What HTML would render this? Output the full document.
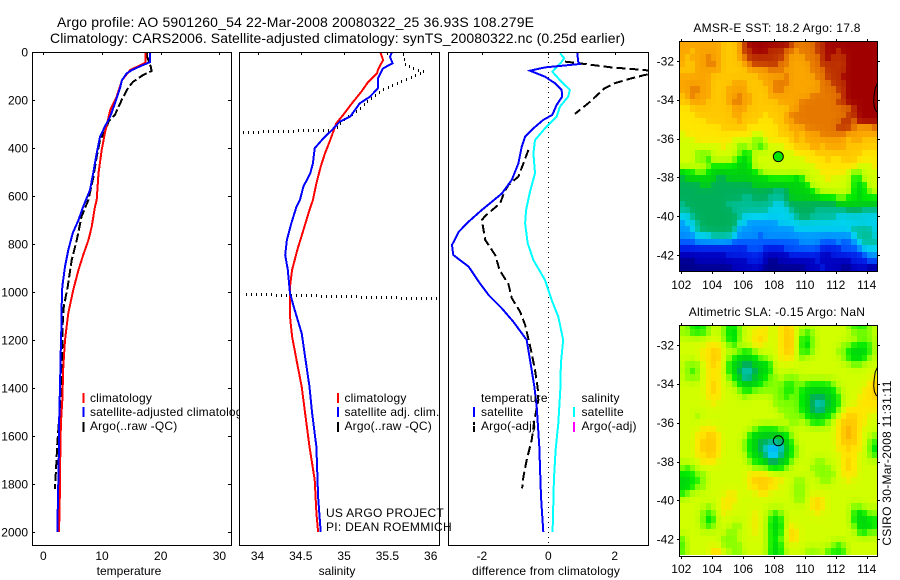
<!DOCTYPE html>
<html lang="en">
<head>
<meta charset="utf-8">
<title>Argo profile chart</title>
<style>
html,body{margin:0;padding:0;background:#fff;width:900px;height:580px;overflow:hidden}
svg{display:block}
text{font-family:"Liberation Sans",sans-serif;font-size:12px;fill:#000}
.ttl{font-size:14px}
.ls{letter-spacing:.27px}
.lg{letter-spacing:.18px}
</style>
</head>
<body>
<svg id="chart" xmlns="http://www.w3.org/2000/svg" width="900" height="580" viewBox="0 0 900 580">
<defs>
<clipPath id="clip-t"><rect x="32" y="52" width="199" height="493"/></clipPath>
<clipPath id="clip-s"><rect x="239" y="52" width="200" height="493"/></clipPath>
<clipPath id="clip-d"><rect x="448" y="52" width="200" height="493"/></clipPath>
<clipPath id="clip-m1"><rect x="679" y="41" width="199" height="231"/></clipPath>
<clipPath id="clip-m2"><rect x="679" y="325" width="199" height="232"/></clipPath>
</defs>
<rect x="0" y="0" width="900" height="580" fill="#fff"/>
<text class="ttl" x="57" y="27" textLength="477" lengthAdjust="spacing">Argo profile: AO 5901260_54 22-Mar-2008 20080322_25 36.93S 108.279E</text>
<text class="ttl" x="50" y="43" textLength="575" lengthAdjust="spacing">Climatology: CARS2006. Satellite-adjusted climatology: synTS_20080322.nc (0.25d earlier)</text>

<g id="p1"></g>
<g>
<line x1="83.5" x2="83.5" y1="393" y2="403" stroke="#f00" stroke-width="2"/>
<line x1="83.5" x2="83.5" y1="407" y2="417" stroke="#00f" stroke-width="2"/>
<line x1="83.5" x2="83.5" y1="422" y2="432" stroke="#000" stroke-width="2"/>
<text class="lg" x="90" y="402">climatology</text>
<text class="lg" x="90" y="416">satellite-adjusted climatology</text>
<text class="lg" x="90" y="430">Argo(..raw -QC)</text>
</g>

<g id="p2"></g>
<g>
<line x1="338" x2="338" y1="393" y2="403" stroke="#f00" stroke-width="2"/>
<line x1="338" x2="338" y1="407" y2="417" stroke="#00f" stroke-width="2"/>
<line x1="338" x2="338" y1="422" y2="432" stroke="#000" stroke-width="2"/>
<text class="lg" x="344.5" y="402">climatology</text>
<text class="lg" x="344.5" y="416">satellite adj. clim.</text>
<text class="lg" x="344.5" y="430">Argo(..raw -QC)</text>
</g>

<g id="p3"></g>
<g>
<text class="lg" x="481" y="402">temperature</text>
<line x1="474" x2="474" y1="407" y2="417" stroke="#00f" stroke-width="2"/>
<text class="lg" x="481" y="416">satellite</text>
<line x1="474" x2="474" y1="422" y2="432" stroke="#000" stroke-width="2" stroke-dasharray="3 1 6"/>
<text class="lg" x="481" y="430">Argo(-adj)</text>
<text class="lg" x="581.5" y="402">salinity</text>
<line x1="574" x2="574" y1="407" y2="417" stroke="#0ff" stroke-width="2"/>
<text class="lg" x="581.5" y="416">satellite</text>
<line x1="574" x2="574" y1="422" y2="432" stroke="#f0f" stroke-width="2"/>
<text class="lg" x="581.5" y="430">Argo(-adj)</text>
</g>

<text class="ls" x="326" y="517">US ARGO PROJECT</text>
<text class="ls" x="326" y="531">PI: DEAN ROEMMICH</text>

<g id="m1"></g>
<g id="m2"></g>
<text class="ls" x="777" y="32" text-anchor="middle">AMSR-E SST: 18.2 Argo: 17.8</text>
<text class="ls" x="777" y="316" text-anchor="middle">Altimetric SLA: -0.15 Argo: NaN</text>
<text class="ls" transform="translate(891 463) rotate(-90)" text-anchor="middle">CSIRO 30-Mar-2008 11:31:11</text>
</svg>

<script>
// ---------- profile data (depth in dbar) ----------
const depthTicks = [0,200,400,600,800,1000,1200,1400,1600,1800,2000];
const tempTicks = [0,10,20,30];
const salTicks = [34,34.5,35,35.5,36];
const salTickLabels = ['34','34.5','35','35.5','36'];
const diffTicks = [-2,0,2];

const tempClimDepth = [0,45,75,117,186,242,338,408,505,617,644,728,783,846,908,992,1088,1200,1311,1395,1450,1547,1672,1880,2000];
const tempClimValue = [17.4,17.4,14.8,13.4,12.5,11.4,10.5,9.95,9.4,9.1,8.8,8.25,7.7,6.8,6.0,5.1,4.26,3.7,3.4,3.3,3.24,3.0,2.9,2.8,2.67];
const tempSatDepth = [0,42,54,75,89,117,151,214,269,311,353,422,505,575,644,700,755,825,894,978,1054,1158,1254,1395,1504,1713,1854,2000];
const tempSatValue = [18.2,18.2,17.0,15.1,14.2,13.4,13.06,12.2,11.4,10.5,9.66,9.1,8.5,7.95,6.8,6.0,5.0,4.26,3.7,3.24,3.13,3.07,2.96,2.85,2.73,2.62,2.5,2.39];
const tempArgoDepth = [5,20,61,79,96,124,147,200,262,290,332,367,436,525,617,686,783,867,978,1061,1131,1270,1395,1520,1631,1742,1811,1820];
const tempArgoValue = [17.7,17.7,18.3,18.45,17.0,15.3,14.5,13.36,12.2,11.1,10.5,9.66,9.1,8.5,7.67,6.5,5.7,4.84,4.15,3.5,3.3,3.2,3.0,2.73,2.39,2.16,2.0,2.0];

const salClimDepth = [3,33,75,89,124,165,214,262,297,367,422,478,547,617,658,742,825,908,978,1103,1186,1283,1395,1504,1645,1783,1921,2000];
const salClimValue = [35.42,35.45,35.39,35.38,35.28,35.2,35.09,34.99,34.91,34.84,34.78,34.73,34.68,34.64,34.6,34.53,34.46,34.40,34.375,34.375,34.40,34.45,34.51,34.55,34.6,34.66,34.68,34.7];
const salSatDepth = [3,20,47,68,110,151,186,214,269,290,325,360,401,464,505,561,617,644,714,783,846,908,1006,1075,1172,1270,1395,1504,1645,1853,2000];
const salSatValue = [35.55,35.53,35.56,35.45,35.39,35.39,35.3,35.18,35.07,34.95,34.86,34.76,34.66,34.64,34.61,34.53,34.49,34.45,34.39,34.34,34.32,34.35,34.375,34.43,34.51,34.55,34.6,34.63,34.68,34.7,34.73];
const salArgoDepth = [3,45,60,78,110,145,180,228,283,318,330,null,1003,1023];
const salArgoValue = [35.68,35.7,35.78,35.92,35.7,35.47,35.34,35.18,34.97,34.9,33.8,null,33.85,36.1];

const diffTempSatDepth = [3,40,50,64,78,103,130,158,186,221,262,283,318,353,395,464,533,590,658,707,749,804,846,894,964,1012,1068,1124,1200,1283,1395,1478,1645,1853,2000];
const diffTempSatValue = [0.87,0.9,0.95,-0.1,-0.55,-0.1,0.2,0.4,0.42,0.25,0.12,-0.15,-0.45,-0.7,-0.8,-0.9,-1.1,-1.4,-2.0,-2.4,-2.7,-2.9,-2.86,-2.4,-2.06,-1.8,-1.4,-1.05,-0.65,-0.55,-0.42,-0.35,-0.27,-0.22,-0.15];
const diffSalSatDepth = [5,26,45,82,117,158,186,228,269,318,367,422,505,582,658,714,797,867,950,1033,1103,1200,1297,1408,1547,1658,1783,2000];
const diffSalSatValue = [0.35,0.48,0.38,0.12,0.35,0.65,0.6,0.35,0.25,-0.1,-0.4,-0.45,-0.4,-0.55,-0.67,-0.7,-0.62,-0.45,-0.1,0.1,0.3,0.45,0.38,0.36,0.3,0.22,0.17,0.13];
const diffTempArgoDepth = [40,50,64,75,85,96,110,130,151,214,258,null,408,464,519,554,582,630,683,700,783,846,908,968,1026,1082,1137,1242,1325,1400,1450,1533,1617,1700,1770,1818];
const diffTempArgoValue = [0.5,1.1,1.9,2.9,3.3,2.9,2.5,2.0,1.7,1.2,0.8,null,-0.6,-0.75,-0.9,-1.2,-1.32,-1.45,-1.9,-2.0,-1.9,-1.6,-1.47,-1.2,-1.1,-0.85,-0.7,-0.52,-0.4,-0.32,-0.3,-0.42,-0.5,-0.65,-0.75,-0.79];
const zeroLineDepth = [0,2050];
const zeroLineValue = [0,0];

// ---------- map data (colour level per cell, 36 rows x 38 columns) ----------
const lonTicks = [102,104,106,108,110,112,114];
const latTicks = [32,34,36,38,40,42];
const argoLon = [108.28];
const argoLat = [36.93];
const coastLon = [114.75,114.55,114.48,114.45,114.5,114.62,114.75];
const coastLat = [33.05,33.4,33.8,34.1,34.4,34.6,34.65];

const sstGrid = [
[14,14,14,14,14,14,14,14,13,13,13,14,16,17,17,17,17,17,17,17,17,16,15,15,15,15,16,16,17,17,17,17,17,17,17,17,17,17],
[14,14,13,14,14,14,14,14,13,13,13,14,16,16,17,17,17,16,16,16,15,15,14,15,15,15,16,16,17,17,16,17,17,17,17,17,17,17],
[14,13,14,14,14,15,14,14,13,13,13,14,15,16,16,16,16,16,16,16,15,14,14,14,15,15,15,16,17,16,16,16,17,17,17,17,17,17],
[14,13,13,14,14,15,15,14,13,13,13,13,14,15,16,16,16,16,16,15,15,14,14,14,14,15,15,16,16,16,16,16,17,17,17,17,17,17],
[13,13,13,14,14,14,14,14,13,13,13,13,13,14,14,14,14,15,15,15,14,14,14,14,14,15,15,15,16,16,16,16,17,17,17,17,17,17],
[14,14,14,14,14,14,13,13,13,13,13,13,13,13,13,14,14,14,14,14,15,14,14,14,14,14,15,15,16,16,16,17,17,17,17,17,17,17],
[14,14,14,14,14,14,13,13,13,13,14,14,14,13,13,13,14,14,15,15,15,14,14,14,14,14,14,15,15,16,16,16,17,17,17,17,17,17],
[14,14,15,15,14,14,13,13,13,14,14,14,14,13,13,13,13,14,15,15,14,14,14,14,14,14,14,15,15,15,16,16,17,17,17,17,17,17],
[13,14,15,14,14,14,13,13,13,14,14,15,14,14,13,13,13,14,14,14,14,14,14,14,14,15,15,15,15,15,15,16,17,17,17,17,17,17],
[13,13,14,14,14,13,13,13,13,14,15,15,14,14,13,13,13,13,13,14,14,14,14,15,15,15,15,15,15,15,16,16,17,17,17,17,17,17],
[12,12,13,13,13,13,13,13,13,13,14,14,14,13,13,13,13,13,13,13,13,14,14,15,15,15,15,15,15,15,15,15,15,16,17,17,17,17],
[12,12,12,13,13,13,13,13,13,13,14,14,13,13,13,13,12,13,13,13,14,15,15,15,15,15,15,15,15,15,15,15,16,16,17,17,17,17],
[12,12,12,12,12,13,13,13,13,13,13,14,13,13,13,12,12,12,13,13,14,14,15,15,15,15,15,15,15,15,15,16,16,15,17,17,17,17],
[12,12,12,12,12,12,12,12,13,13,13,13,13,12,12,12,12,12,12,13,13,14,14,14,15,15,15,15,15,15,16,16,16,15,14,14,14,15],
[11,12,12,12,12,12,12,12,12,12,12,12,12,12,11,11,12,12,12,13,13,13,14,13,14,14,14,15,15,15,15,15,14,14,14,14,14,14],
[11,11,11,12,12,12,12,12,12,12,11,11,11,11,10,10,11,12,12,12,12,13,14,13,14,14,14,14,14,14,14,14,13,14,14,13,13,13],
[11,11,11,11,11,11,11,11,12,11,11,10,10,11,10,9,10,11,11,11,12,12,13,13,13,14,14,13,14,14,14,14,13,13,13,13,13,13],
[11,11,11,10,10,10,11,11,11,11,11,10,9,9,11,11,11,11,11,11,11,11,12,12,12,12,13,13,13,13,13,13,13,13,13,12,12,12],
[11,11,11,10,10,9,11,11,11,11,10,9,8,9,11,11,11,11,11,11,11,11,11,11,12,12,12,12,13,12,12,13,13,13,12,12,12,12],
[11,11,11,11,11,10,9,9,9,9,9,8,8,9,11,11,11,11,11,11,11,11,11,11,11,11,12,12,12,12,12,12,12,12,11,11,11,12],
[8,9,9,10,10,9,8,8,8,8,8,8,8,8,9,10,11,11,11,11,11,11,11,11,11,11,11,12,12,12,12,12,11,10,10,11,11,11],
[7,8,8,8,8,8,8,7,7,8,8,8,8,8,8,8,8,9,9,9,9,9,8,9,11,11,11,11,12,11,11,11,11,9,9,11,11,11],
[7,7,7,7,8,8,7,7,7,7,7,7,7,7,8,8,8,8,8,8,8,8,8,8,9,11,11,11,11,11,11,11,11,9,8,9,11,11],
[7,7,7,7,7,7,7,7,7,7,7,7,7,7,7,7,7,7,6,6,7,8,8,8,8,9,10,11,11,11,11,11,11,9,8,9,10,11],
[7,7,7,7,7,7,7,7,7,7,7,7,6,6,7,7,7,6,6,6,7,8,8,8,8,8,8,9,9,9,10,10,9,9,8,9,9,9],
[6,7,7,7,7,7,7,7,7,6,6,6,6,6,6,6,6,6,5,5,6,7,7,7,7,7,7,7,7,7,8,8,8,8,8,8,8,8],
[6,6,7,7,7,7,7,7,7,7,6,6,6,6,6,6,6,5,5,5,5,6,7,7,7,7,6,6,6,6,6,6,7,7,7,6,6,6],
[5,5,6,7,7,7,7,7,7,7,7,6,5,5,5,5,5,5,5,5,5,5,6,7,7,6,6,6,6,6,5,5,5,5,5,5,5,5],
[4,5,5,6,7,7,7,7,7,7,7,5,5,4,4,4,4,4,4,5,5,5,5,5,5,5,5,5,5,5,5,5,5,5,5,5,5,5],
[4,4,5,6,7,7,7,7,7,7,6,4,4,4,4,4,4,4,4,4,4,4,5,5,5,5,5,5,5,5,5,5,5,6,6,6,6,5],
[4,4,4,5,5,5,6,6,6,6,5,4,4,4,4,3,4,4,4,4,4,4,4,4,4,4,4,4,4,4,4,4,4,5,6,6,6,5],
[3,3,3,4,4,4,4,4,4,4,3,3,3,3,3,3,3,3,3,3,3,3,3,4,4,4,4,3,3,3,4,3,3,4,5,6,6,6],
[2,2,2,2,2,2,2,2,2,2,2,2,2,3,3,3,2,2,2,2,3,3,3,3,3,3,3,2,2,2,2,3,3,3,4,5,5,5],
[1,1,1,1,1,1,1,1,1,2,2,2,2,2,2,2,1,1,1,1,1,2,2,2,2,2,2,1,1,2,2,2,2,2,2,3,4,4],
[0,0,0,1,1,1,1,1,1,1,1,1,1,2,2,2,1,0,0,1,1,1,1,1,1,1,2,1,1,1,1,1,1,2,2,2,3,3],
[0,0,0,0,0,0,0,0,0,0,1,1,1,1,1,1,0,0,0,0,0,0,0,0,1,1,1,2,1,1,1,0,0,1,1,1,0,0]
];

const slaGrid = [
[11,10,9,9,9,10,11,11,10,9,9,10,11,11,11,11,12,11,11,12,13,12,11,11,11,11,11,11,11,11,11,11,10,9,9,9,10,11],
[10,10,9,9,9,10,11,11,10,9,8,10,11,11,12,12,12,11,11,12,13,13,11,10,9,10,11,11,11,11,11,11,11,10,10,10,10,11],
[11,11,11,11,11,11,11,11,10,9,8,10,11,11,12,13,12,11,11,12,13,13,11,9,9,10,11,11,11,11,11,11,11,11,10,10,10,11],
[11,11,11,11,11,12,12,12,11,10,9,11,11,11,12,12,11,11,11,12,13,13,11,9,8,10,11,11,11,11,11,10,10,9,9,9,9,11],
[11,11,11,11,12,12,13,13,11,11,11,10,9,9,10,11,11,11,11,12,13,13,11,9,9,10,11,11,11,11,10,10,9,8,8,8,9,11],
[11,11,11,11,12,12,13,13,11,10,9,8,8,8,9,10,10,11,11,12,12,12,11,10,11,11,11,11,11,11,11,10,9,8,8,9,10,11],
[11,10,10,10,11,12,13,12,11,9,8,8,7,7,8,8,8,9,11,11,11,11,11,11,11,11,11,11,11,11,11,11,11,10,10,11,11,11],
[11,10,9,10,11,12,12,12,11,9,8,7,5,5,7,8,8,9,11,11,11,11,11,11,11,11,11,11,11,11,11,11,11,11,11,11,11,11],
[11,10,10,10,11,12,12,12,11,10,9,8,5,6,8,8,9,10,10,11,10,10,10,11,11,11,11,11,11,11,11,11,11,11,11,11,11,12],
[11,11,11,11,11,12,13,12,11,11,10,9,8,8,8,9,10,10,10,10,9,9,10,10,9,9,9,9,9,10,11,11,11,11,11,11,12,13],
[11,11,11,11,11,12,13,12,11,11,11,10,9,9,10,10,10,10,10,10,9,9,10,9,8,8,8,8,8,9,10,11,11,11,11,12,12,13],
[11,11,11,11,11,12,12,12,11,11,11,11,10,11,11,11,11,11,10,10,9,10,10,9,8,7,7,7,8,8,9,11,11,11,12,12,12,13],
[11,11,11,11,11,11,12,11,11,11,11,11,11,11,11,11,11,11,10,10,10,10,10,9,8,7,5,5,8,8,9,11,11,11,12,12,12,12],
[11,11,11,11,11,11,11,11,11,11,11,11,11,11,11,11,11,11,11,10,10,10,10,9,8,7,6,6,8,8,10,11,12,12,12,12,12,12],
[11,11,11,10,11,11,11,11,11,11,11,11,11,11,11,11,11,11,11,11,10,10,10,10,9,8,8,8,9,10,11,12,13,13,12,12,11,11],
[11,11,11,11,11,11,11,11,11,11,11,11,11,11,11,11,11,11,11,11,11,10,10,11,10,9,9,9,10,11,12,13,13,13,12,12,11,11],
[11,11,11,11,12,12,12,11,11,11,11,11,11,11,10,9,9,9,9,10,10,11,11,11,11,11,11,11,11,11,12,13,14,13,12,11,11,11],
[11,11,11,12,12,13,13,12,11,11,11,11,11,9,8,8,8,8,8,8,9,10,11,11,11,11,11,11,11,11,12,13,14,13,12,11,11,10],
[11,11,11,12,13,13,13,12,11,11,11,11,10,9,8,7,7,6,6,6,8,9,11,11,11,11,11,11,11,11,12,13,13,13,12,11,10,9],
[11,11,11,12,13,13,13,12,11,11,11,11,10,9,8,7,5,4,4,5,8,9,10,11,11,11,11,11,11,11,12,12,13,12,12,11,10,8],
[11,11,11,12,12,13,13,12,11,11,11,11,11,9,8,8,6,4,4,6,8,9,10,11,11,11,11,11,11,11,11,12,12,12,11,11,10,9],
[11,11,11,11,12,12,12,11,11,11,11,11,11,10,9,9,8,7,7,8,8,10,11,11,11,11,10,10,11,11,11,12,13,12,11,11,11,11],
[10,9,10,11,11,11,11,11,11,11,11,11,11,11,10,10,10,9,9,9,10,11,11,11,11,10,10,10,10,11,11,12,13,12,11,11,11,11],
[9,9,9,10,10,11,11,11,11,11,11,11,11,12,12,12,12,11,11,11,11,11,11,11,11,11,10,10,10,10,11,12,12,12,11,11,11,11],
[8,8,9,9,10,11,11,11,11,11,11,11,11,12,13,13,13,13,12,12,11,11,10,10,11,11,11,10,10,11,11,11,12,11,11,11,11,11],
[8,8,9,10,10,11,11,11,11,11,11,11,11,12,12,13,13,12,12,11,11,11,10,10,11,11,11,11,11,11,11,11,11,11,11,11,11,11],
[9,10,11,11,11,11,11,11,11,12,12,11,11,11,11,12,12,11,11,11,11,11,10,10,11,11,11,11,11,11,11,11,11,11,11,11,11,11],
[11,11,11,11,11,11,11,11,12,12,12,11,11,11,11,11,11,11,11,11,11,11,10,10,11,12,13,12,11,11,11,11,11,11,11,11,11,11],
[11,11,11,11,11,10,11,11,12,12,11,11,11,11,11,11,11,11,11,11,11,11,11,11,11,12,13,12,11,11,11,11,11,10,10,11,11,11],
[11,11,11,11,10,9,10,11,12,11,11,11,11,11,12,11,11,10,9,10,11,11,11,11,11,11,12,11,11,11,11,11,11,9,8,9,10,10],
[11,11,11,11,10,8,9,11,11,11,11,11,11,11,12,11,11,9,8,9,11,11,11,11,11,11,11,11,11,11,11,11,11,9,8,8,9,9],
[11,11,11,11,10,9,10,11,11,11,10,10,11,11,12,11,11,9,8,9,11,12,11,11,11,11,11,11,11,11,11,11,11,10,8,8,8,9],
[11,11,11,11,11,11,11,11,11,10,10,11,11,11,12,11,11,9,8,9,11,13,12,11,11,11,11,11,11,11,11,11,11,11,9,9,10,10],
[9,11,11,11,11,11,11,11,10,10,10,11,11,11,11,11,11,9,9,10,11,13,12,11,11,11,11,11,11,11,11,11,11,11,11,11,11,11],
[9,11,11,11,11,11,11,11,10,10,10,10,11,11,11,11,11,9,8,9,11,11,11,11,11,11,11,11,11,10,9,10,11,11,11,11,11,11],
[9,11,11,11,11,11,13,13,11,11,10,10,11,11,11,11,11,9,8,9,11,11,11,11,10,10,10,11,9,9,9,9,11,11,11,11,11,11]
];

// ---------- drawing ----------
const NS = 'http://www.w3.org/2000/svg';
const levelRgb = [[0,0,140],[0,0,190],[0,30,230],[0,90,255],[0,150,255],[0,210,240],[0,190,150],[0,175,90],[0,210,15],[0,235,0],[130,255,0],[210,255,0],[255,230,0],[255,200,0],[250,165,0],[230,120,0],[190,50,0],[160,0,0]];

function levelColor(v){
  const i = Math.max(0, Math.min(levelRgb.length - 2, Math.floor(v)));
  const f = Math.max(0, Math.min(1, v - i));
  const a = levelRgb[i], b = levelRgb[i + 1];
  return 'rgb(' + [0,1,2].map(k => Math.round(a[k] + (b[k] - a[k]) * f)).join(',') + ')';
}
function smoothCell(grid, r, c, w){
  let sum = 0, n = 0;
  for (let dr = -1; dr <= 1; dr++){
    for (let dc = -1; dc <= 1; dc++){
      if (!dr && !dc) continue;
      const row = grid[r + dr];
      if (!row || row[c + dc] === undefined) continue;
      sum += row[c + dc];
      n++;
    }
  }
  return (1 - w) * grid[r][c] + w * sum / n;
}
function mk(tag, attrs, parent){
  const el = document.createElementNS(NS, tag);
  for (const k in attrs) el.setAttribute(k, attrs[k]);
  parent.appendChild(el);
  return el;
}
function linScale(d0, r0, d1, r1){ return v => r0 + (v - d0) * (r1 - r0) / (d1 - d0); }

const yDepth = linScale(0, 52, 2000, 532);
const xTemp = linScale(0, 43.3, 30, 219.4);
const xSal = linScale(34, 257.5, 36, 430.7);
const xDiff = linScale(-2, 481.9, 2, 614.7);

function drawSeries(parent, clip, name, xs, depth, value, color, width, dash){
  let d = '';
  let pen = false;
  for (let i = 0; i < depth.length; i++){
    if (depth[i] === null || value[i] === null){ pen = false; continue; }
    d += (pen ? 'L' : 'M') + xs(value[i]).toFixed(1) + ' ' + yDepth(depth[i]).toFixed(1);
    pen = true;
  }
  const p = mk('path', {d: d, fill: 'none', stroke: color, 'stroke-width': width, 'clip-path': 'url(#' + clip + ')', 'shape-rendering': 'crispEdges'}, parent);
  if (dash) p.setAttribute('stroke-dasharray', dash);
  
  
}

// dotted style: small square dots stepped along the data line
function drawDotted(parent, clip, name, xs, depth, value, dotW, dotH, gap){
  let d = '';
  let carry = 0;
  for (let i = 1; i < depth.length; i++){
    if (depth[i] === null || depth[i - 1] === null) continue;
    const x0 = xs(value[i - 1]), y0 = yDepth(depth[i - 1]);
    const x1 = xs(value[i]), y1 = yDepth(depth[i]);
    const len = Math.hypot(x1 - x0, y1 - y0);
    let s = carry;
    while (s < len){
      const px = Math.round(x0 + (x1 - x0) * s / len);
      const py = Math.round(y0 + (y1 - y0) * s / len);
      d += 'M' + px + ' ' + py + 'h' + dotW + 'v' + dotH + 'h' + (-dotW) + 'z';
      s += gap;
    }
    carry = s - len;
  }
  const p = mk('path', {d: d, fill: '#000', 'clip-path': 'url(#' + clip + ')', 'shape-rendering': 'crispEdges'}, parent);
  
  
}

function drawPanel(parent, box, xs, ticks, labels, xTitle, xTitleX, showY, spaced){
  const bg = mk('rect', {x: box.x, y: box.y, width: box.w, height: box.h, fill: '#fff'}, parent);
  
  
  ticks.forEach((t, i) => {
    const tx = Math.round(xs(t)) + 0.5;
    const tk = mk('line', {x1: tx, x2: tx, y1: box.y, y2: box.y + 3, stroke: '#000', 'stroke-width': 1}, parent);
    
    
    const lb = mk('text', {x: xs(t), y: 560, 'text-anchor': 'middle'}, parent);
    lb.textContent = labels[i];
    
    
  });
  if (showY){
    depthTicks.forEach(t => {
      const ty = Math.round(yDepth(t)) + 0.5;
      const a = mk('line', {x1: box.x, x2: box.x + 3, y1: ty, y2: ty, stroke: '#000', 'stroke-width': 1}, parent);
      
      
      const b = mk('line', {x1: box.x + box.w - 3, x2: box.x + box.w, y1: ty, y2: ty, stroke: '#000', 'stroke-width': 1}, parent);
      
      
      const lb = mk('text', {x: 28, y: yDepth(t) + 4.3, 'text-anchor': 'end'}, parent);
      lb.textContent = String(t);
      
      
    });
  }
  const ttl = mk('text', {x: xTitleX, y: 575, 'text-anchor': 'middle'}, parent);
  if (spaced) ttl.setAttribute('class', 'lg');
  ttl.textContent = xTitle;
  
  
}
function drawFrame(parent, box){
  const f = mk('rect', {x: box.x + 0.5, y: box.y + 0.5, width: box.w, height: box.h, fill: 'none', stroke: '#000', 'stroke-width': 1, 'shape-rendering': 'crispEdges'}, parent);
  
  
}

const p1 = document.getElementById('p1');
const p2 = document.getElementById('p2');
const p3 = document.getElementById('p3');
const box1 = {x: 32, y: 52, w: 199, h: 493};
const box2 = {x: 239, y: 52, w: 200, h: 493};
const box3 = {x: 448, y: 52, w: 200, h: 493};

drawPanel(p1, box1, xTemp, tempTicks, tempTicks.map(String), 'temperature', 129, true, false);
drawSeries(p1, 'clip-t', 'argo-temperature-line', xTemp, tempArgoDepth, tempArgoValue, '#000', 2, '9 3');
drawSeries(p1, 'clip-t', 'climatology-temperature-line', xTemp, tempClimDepth, tempClimValue, '#f00', 2);
drawSeries(p1, 'clip-t', 'satellite-temperature-line', xTemp, tempSatDepth, tempSatValue, '#00f', 2);
drawFrame(p1, box1);

drawPanel(p2, box2, xSal, salTicks, salTickLabels, 'salinity', 337, false, false);
drawDotted(p2, 'clip-s', 'argo-salinity-line', xSal, salArgoDepth, salArgoValue, 1, 3, 5);
drawSeries(p2, 'clip-s', 'climatology-salinity-line', xSal, salClimDepth, salClimValue, '#f00', 2);
drawSeries(p2, 'clip-s', 'satellite-salinity-line', xSal, salSatDepth, salSatValue, '#00f', 2);
drawFrame(p2, box2);

drawPanel(p3, box3, xDiff, diffTicks, diffTicks.map(String), 'difference from climatology', 546, false, true);
drawDotted(p3, 'clip-d', 'zero-reference-line', xDiff, zeroLineDepth, zeroLineValue, 1, 1, 5);
drawSeries(p3, 'clip-d', 'argo-temperature-difference-line', xDiff, diffTempArgoDepth, diffTempArgoValue, '#000', 2, '9 4');
drawSeries(p3, 'clip-d', 'salinity-difference-line', xDiff, diffSalSatDepth, diffSalSatValue, '#0ff', 2);
drawSeries(p3, 'clip-d', 'temperature-difference-line', xDiff, diffTempSatDepth, diffTempSatValue, '#00f', 2);
drawFrame(p3, box3);

function drawMap(parent, clip, grid, box, tickY32, tickY42, labelY, fillMarker, blend, latStart, latStep){
  const xLon = linScale(102, 681.3, 114, 866.7);
  const yLat = linScale(32, tickY32, 42, tickY42);
  const lonStart = 101.88;
  const lonStep = 0.3374;
  grid.forEach((row, r) => {
    row.forEach((level, c) => {
      const x0 = Math.round(xLon(lonStart + c * lonStep));
      const x1 = Math.round(xLon(lonStart + (c + 1) * lonStep));
      const y0 = Math.round(yLat(latStart + r * latStep));
      const y1 = Math.round(yLat(latStart + (r + 1) * latStep));
      const cell = mk('rect', {x: x0, y: y0, width: x1 - x0, height: y1 - y0, fill: levelColor(smoothCell(grid, r, c, blend)), 'clip-path': 'url(#' + clip + ')', 'shape-rendering': 'crispEdges'}, parent);
      
      
    });
  });
  let coast = '';
  coastLon.forEach((lo, i) => { coast += (i ? 'L' : 'M') + xLon(lo).toFixed(1) + ' ' + yLat(coastLat[i]).toFixed(1); });
  const cp = mk('path', {d: coast, fill: 'none', stroke: '#000', 'stroke-width': 1, 'clip-path': 'url(#' + clip + ')'}, parent);
  
  
  const marker = mk('circle', {cx: xLon(argoLon[0]), cy: yLat(argoLat[0]), r: 5, fill: fillMarker, stroke: '#000', 'stroke-width': 1}, parent);
  
  
  drawFrame(parent, box);
  lonTicks.forEach(t => {
    const tx = Math.round(xLon(t)) + 0.5;
    const a = mk('line', {x1: tx, x2: tx, y1: box.y - 2, y2: box.y, stroke: '#000', 'stroke-width': 1}, parent);
    
    
    const b = mk('line', {x1: tx, x2: tx, y1: box.y + box.h + 1, y2: box.y + box.h + 3, stroke: '#000', 'stroke-width': 1}, parent);
    
    
    const lb = mk('text', {x: xLon(t), y: labelY, 'text-anchor': 'middle'}, parent);
    lb.textContent = String(t);
    
    
  });
  latTicks.forEach(t => {
    const ty = Math.round(yLat(t)) + 0.5;
    const a = mk('line', {x1: box.x - 2, x2: box.x, y1: ty, y2: ty, stroke: '#000', 'stroke-width': 1}, parent);
    
    
    const b = mk('line', {x1: box.x + box.w + 1, x2: box.x + box.w + 3, y1: ty, y2: ty, stroke: '#000', 'stroke-width': 1}, parent);
    
    
    const lb = mk('text', {x: 674, y: yLat(t) + 4.3, 'text-anchor': 'end'}, parent);
    lb.textContent = '-' + t;
    
    
  });
}
drawMap(document.getElementById('m1'), 'clip-m1', sstGrid, {x: 679, y: 41, w: 198, h: 230}, 61, 255, 289, '#00e600', 0.4, 31.0, 0.328);
drawMap(document.getElementById('m2'), 'clip-m2', slaGrid, {x: 679, y: 325, w: 198, h: 231}, 345, 539.3, 573, 'none', 0.55, 30.85, 0.332);
</script>
</body>
</html>
